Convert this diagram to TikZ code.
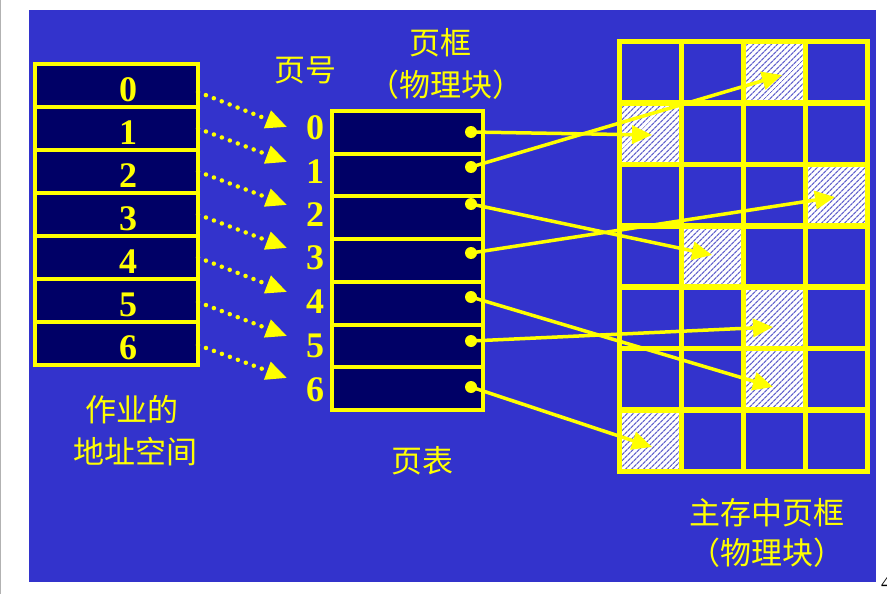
\documentclass[tikz,border=0pt]{standalone}
\usepackage{fontspec}
\setmainfont{Liberation Serif}
\newfontfamily\cjk{Noto Sans CJK SC}
\usetikzlibrary{arrows.meta,patterns.meta}
\definecolor{bgblue}{RGB}{51,51,204}
\definecolor{navy}{RGB}{0,0,102}
\definecolor{ylw}{RGB}{255,255,0}
\definecolor{hatch}{RGB}{100,100,205}
\begin{document}
\begin{tikzpicture}[x=1pt,y=-1pt,
  rowbox/.style={draw=ylw, fill=navy, line width=4pt, minimum width=163pt, minimum height=43pt, inner sep=0pt, outer sep=0pt},
  ptbox/.style={draw=ylw, fill=navy, line width=4pt, minimum width=151pt, minimum height=42.71pt, inner sep=0pt, outer sep=0pt},
  num/.style={text=ylw, font=\fontsize{36}{36}\selectfont\bfseries, inner sep=0pt},
  cjklabel/.style={text=ylw, font=\cjk\fontsize{31}{38}\selectfont, inner sep=0pt},
  dotarrow/.style={draw=ylw, line width=4.5pt, line cap=round, dash pattern=on 0pt off 8.5pt, -{Triangle[length=21pt,width=18pt]}},
  memarrow/.style={draw=ylw, line width=3.5pt, -{Triangle[length=20pt,width=18pt]}},
  pdot/.style={circle, fill=ylw, minimum size=12pt, inner sep=0pt},
  gridline/.style={draw=ylw, line width=5.5pt, line cap=rect},
  hatched/.style={fill=white, postaction={pattern={Lines[angle=45,distance=4pt,line width=1.3pt]}, pattern color=hatch}}
]
\useasboundingbox (0,0) rectangle (887,594);
\fill[white] (0,0) rectangle (887,594);
\fill[black!30] (0,0) rectangle (1.2,594);
\fill[bgblue] (29,10) rectangle (876,582);

% main memory grid
\foreach \c/\r in {2/0,0/1,3/2,1/3,2/4,2/5,0/6}
  \path[hatched] ({619.5+62*\c},{41.5+61.4286*\r}) rectangle ++(62,61.4286);
\foreach \c in {0,...,4}
  \draw[gridline] ({619.5+62*\c},41.5) -- ++(0,430);
\foreach \r in {0,...,7}
  \draw[gridline] (619.5,{41.5+61.4286*\r}) -- ++(248,0);

% job address space
\foreach \i/\y in {0/85.5,1/128.5,2/171.5,3/214.5,4/257.5,5/300.5,6/343.5}{
  \node[rowbox] (a\i) at (116.5,\y) {};
  \node[num] (an\i) at (128,\y+4) {\i};
}

% page table
\foreach \i in {0,...,6}
  \node[ptbox] (p\i) at (407.5,{132.36+42.71*\i}) {};

% page numbers
\foreach \i/\y in {0/128,1/172,2/215,3/258,4/302,5/346,6/390}
  \node[num] (pn\i) at (315,\y) {\i};

% dots in page table
\foreach \i/\y in {0/132,1/167,2/204,3/253,4/297,5/341,6/387}
  \node[pdot] (d\i) at (471,\y) {};

% dotted arrows
\foreach \i/\dy/\ey in {0/-6.5/127,1/0/162,2/0/205,3/0/248,4/0/292,5/-1.5/336,6/-1.5/378}{
  \coordinate (t\i) at (287,\ey);
  \draw[dotarrow] ([yshift=\dy pt]a\i.east) -- (t\i);
}

% memory targets
\coordinate (m0) at (652,135);
\coordinate (m1) at (782,75);
\coordinate (m2) at (712,255);
\coordinate (m3) at (835,197);
\coordinate (m4) at (773,387);
\coordinate (m5) at (773,327);
\coordinate (m6) at (652,447);
\foreach \i in {0,...,6}
  \draw[memarrow] (d\i.center) -- (m\i);

% labels
\node[cjklabel] (lblno) at (305,70) {页号};
\node[cjklabel] (lblframe) at (440,43) {页框};
\node[cjklabel] (lblblk) at (446,85) {（物理块）};
\node[cjklabel] (lbljob1) at (132,410) {作业的};
\node[cjklabel] (lbljob2) at (135,452) {地址空间};
\node[cjklabel] (lblpt) at (422,461) {页表};
\node[cjklabel] (lblmem1) at (767,513) {主存中页框};
\node[cjklabel] (lblmem2) at (767,553) {（物理块）};
\node[anchor=south west, font=\fontsize{20}{20}\selectfont, inner sep=0pt] (pg) at (881,590) {4};
\end{tikzpicture}
\end{document}
